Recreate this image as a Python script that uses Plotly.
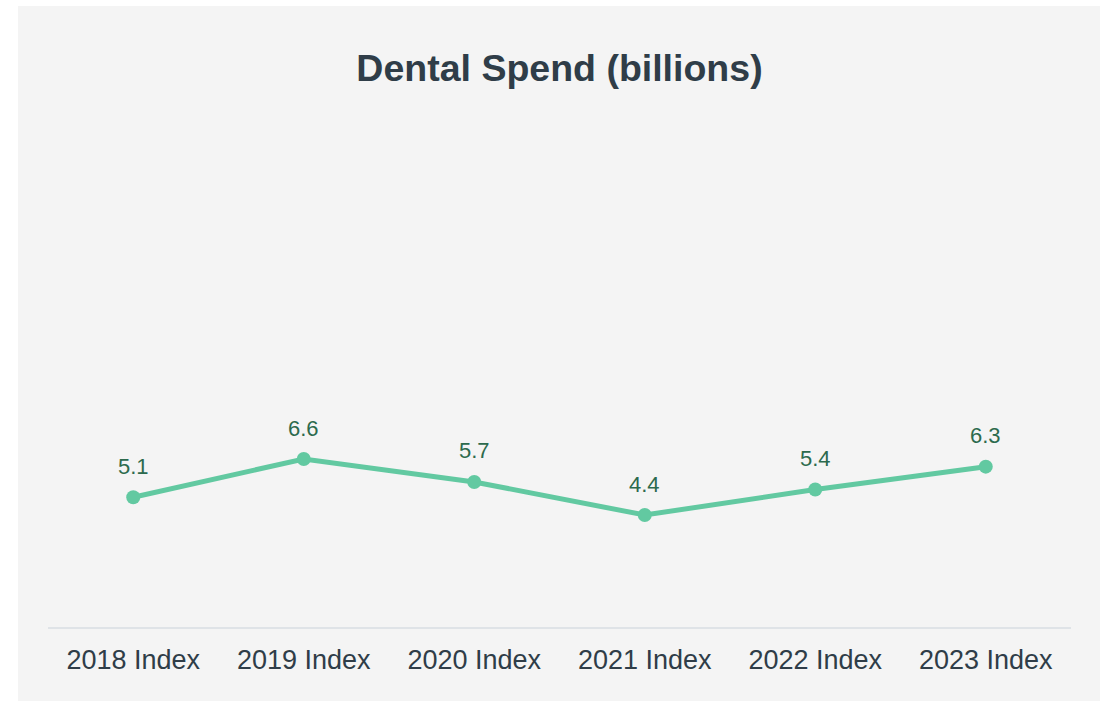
import plotly.graph_objects as go

# Dental spend by index year (billions)
categories = ["2018 Index", "2019 Index", "2020 Index", "2021 Index", "2022 Index", "2023 Index"]
spend = [5.1, 6.6, 5.7, 4.4, 5.4, 6.3]
value_labels = ["5.1", "6.6", "5.7", "4.4", "5.4", "6.3"]

LINE = "#62c9a1"
LABEL = "#2c6a4d"
TEXT = "#2f3d48"
PANEL = "#f4f4f4"
FONT = "Liberation Sans, Arial"

fig = go.Figure()
fig.add_trace(go.Scatter(
    x=categories, y=spend, mode="lines+markers",
    line=dict(color=LINE, width=5),
    marker=dict(color=LINE, size=14),
    hoverinfo="skip", showlegend=False,
))

for c, v, t in zip(categories, spend, value_labels):
    fig.add_annotation(x=c, y=v, text=t, showarrow=False, yshift=31,
                       font=dict(family=FONT, size=22, color=LABEL))

W, H = 1109, 701
ml, mr, mt, mb = 48, 38, 118, 74
pw, ph = W - ml - mr, H - mt - mb

# light panel behind the whole chart
fig.add_shape(type="rect", xref="paper", yref="paper", layer="below",
              x0=(18 - ml) / pw, x1=(1100 - ml) / pw,
              y0=-(H + 5 - mt - ph) / ph, y1=(H - 6 - mb) / ph,
              fillcolor=PANEL, line=dict(width=0))

fig.update_layout(
    width=W, height=H,
    margin=dict(l=ml, r=mr, t=mt, b=mb),
    paper_bgcolor="white", plot_bgcolor=PANEL,
    title=dict(text="<b>Dental Spend (billions)</b>", xref="paper", x=0.5, xanchor="center",
               y=1 - 68 / H, yanchor="middle",
               font=dict(family=FONT, size=37.5, color=TEXT)),
    xaxis=dict(type="category", range=[-0.5, 5.5], showgrid=False, zeroline=False,
               showline=True, linecolor="#dfe3e7", linewidth=2,
               ticks="outside", ticklen=8, tickcolor="rgba(0,0,0,0)",
               tickfont=dict(family=FONT, size=27, color=TEXT)),
    yaxis=dict(range=[0, 20], visible=False, showgrid=False, zeroline=False),
)

fig.write_html("out.html")
